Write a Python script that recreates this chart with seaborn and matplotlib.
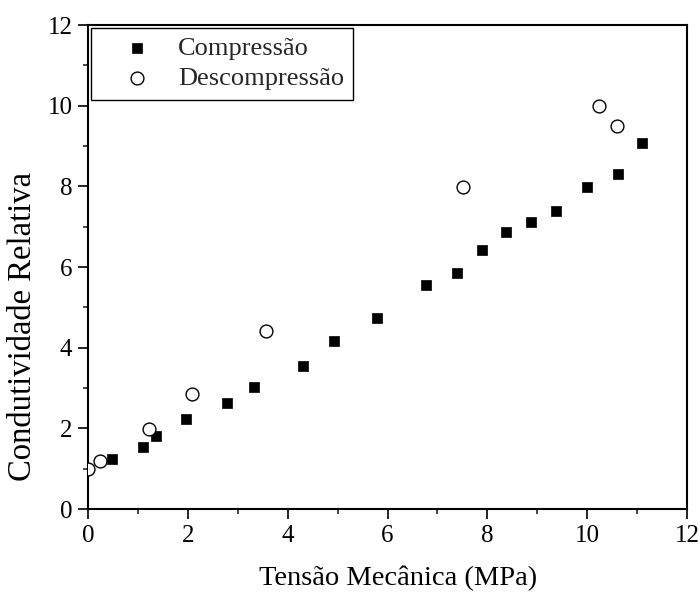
import numpy as np
import pandas as pd
import matplotlib
matplotlib.use("Agg")
import matplotlib.pyplot as plt
from matplotlib.ticker import MultipleLocator
import seaborn as sns

comp_x = [0.49, 1.10, 1.36, 1.97, 2.78, 3.32, 4.31, 4.93, 5.79, 6.78, 7.39, 7.89, 8.38, 8.87, 9.37, 9.99, 10.61, 11.10]
comp_y = [1.24, 1.54, 1.81, 2.22, 2.62, 3.02, 3.55, 4.16, 4.74, 5.55, 5.86, 6.42, 6.88, 7.12, 7.39, 7.98, 8.31, 9.08]
desc_x = [0.0, 0.25, 1.22, 2.09, 3.57, 7.51, 10.23, 10.60]
desc_y = [0.99, 1.18, 1.99, 2.85, 4.42, 7.98, 9.98, 9.50]
x_ticks = [0, 2, 4, 6, 8, 10, 12]
y_ticks = [0, 2, 4, 6, 8, 10, 12]

sns.set_theme(style="ticks")
plt.rcParams['font.family'] = ['Liberation Serif', 'DejaVu Serif']

df_c = pd.DataFrame({"x": comp_x, "y": comp_y})
df_d = pd.DataFrame({"x": desc_x, "y": desc_y})

fig = plt.figure(figsize=(7.0, 5.92), dpi=100)
ax = fig.add_axes([88/700, 1 - 509/592, (687 - 88)/700, (509 - 25)/592])

sns.scatterplot(data=df_c, x="x", y="y", ax=ax, marker="s", s=62, color="black",
                edgecolor="black", linewidth=0.5, label="Compressão", zorder=3)
sns.scatterplot(data=df_d, x="x", y="y", ax=ax, marker="o", s=85, facecolor="white",
                edgecolor="black", linewidth=1.0, label="Descompressão", zorder=3)

ax.set_xlim(0, 12)
ax.set_ylim(0, 12)
ax.set_xticks(x_ticks)
ax.set_yticks(y_ticks)
ax.xaxis.set_minor_locator(MultipleLocator(1))
ax.yaxis.set_minor_locator(MultipleLocator(1))
ax.tick_params(which="major", direction="out", length=7.2, width=1.2, labelsize=18, colors="black",
               top=False, right=False, pad=4)
ax.tick_params(which="minor", direction="out", length=3.8, width=1.2, top=False, right=False)
for sp in ax.spines.values():
    sp.set_visible(True)
    sp.set_color("black")
    sp.set_linewidth(1.5)

ax.set_xlabel("Tensão Mecânica (MPa)", fontsize=20.5, color="black")
ax.set_ylabel("Condutividade Relativa", fontsize=23.5, color="black")
ax.xaxis.set_label_coords(0.517, -0.118)
ax.yaxis.set_label_coords(-0.083, 0.378)

leg = ax.legend(loc="upper left", fontsize=19, frameon=True, fancybox=False,
                borderaxespad=0.1, handletextpad=0.15, borderpad=0.35,
                labelspacing=0.25, markerscale=1.0, handlelength=2.8)
leg.get_frame().set_edgecolor("black")
leg.get_frame().set_linewidth(1.0)
leg.get_frame().set_alpha(1)

fig.savefig("out.png", dpi=100)
